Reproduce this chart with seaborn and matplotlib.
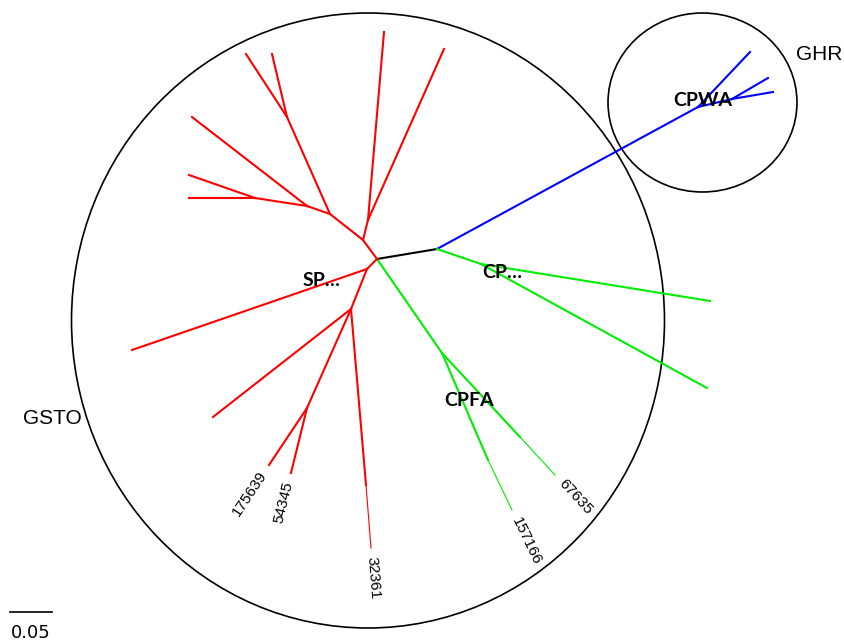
import numpy as np
import pandas as pd
import matplotlib
matplotlib.use("Agg")
import matplotlib.pyplot as plt
from matplotlib.patches import Ellipse
import seaborn as sns

# ---------------------------------------------------------------
# tree layout (unrooted, drawn in layout units, 840 units = 1.0 subst/site)
# ---------------------------------------------------------------
node_x = [377, 437, 698, 750, 732, 768, 773, 481, 710, 707, 442, 520, 555, 488, 512,
          363, 368, 384, 444, 330, 287, 246, 272, 307, 192, 255, 189, 189,
          367, 132, 351, 213, 307, 269, 291, 366, 371]
node_y = [259, 249, 107, 52, 99, 78, 92, 264, 301, 388, 353, 437, 475, 460, 510,
          240, 220, 32, 49, 214, 117, 54, 54, 206, 117, 198, 175, 198,
          269, 350, 309, 417, 408, 465, 473, 485, 548]
parent = [-1, 0, 1, 2, 2, 4, 4, 1, 7, 7, 0, 10, 11, 10, 13,
          0, 15, 16, 16, 15, 19, 20, 20, 19, 23, 23, 25, 25,
          0, 28, 28, 30, 30, 32, 32, 30, 35]
clade = ["root", "root", "GHR", "GHR", "GHR", "GHR", "GHR", "CP", "CP", "CP", "CP", "CP", "CP", "CP", "CP",
         "GSTO", "GSTO", "GSTO", "GSTO", "GSTO", "GSTO", "GSTO", "GSTO", "GSTO", "GSTO", "GSTO", "GSTO", "GSTO",
         "GSTO", "GSTO", "GSTO", "GSTO", "GSTO", "GSTO", "GSTO", "GSTO", "GSTO"]
thin_tips = [12, 14, 36]
leaf_labels = {33: "175639", 34: "54345", 36: "32361", 14: "157166", 12: "67635"}
clade_labels = ["SP…", "CP…", "CPFA", "CPWA"]
clade_label_xy = [(322, 280), (502, 272), (469, 400), (703, 100)]
group_names = ["GSTO", "GHR"]
group_xy = [(52, 418), (819, 55)]
group_circles = [(368, 320.5, 593, 615), (702.5, 102.5, 189, 179)]
scale_len = 0.05
units_per_dist = 840

palette = {"root": "#000000", "GHR": "#0000FF", "CP": "#00EE00", "GSTO": "#FF0000"}

rows = []
for i, p in enumerate(parent):
    if p < 0:
        continue
    w = "thin" if i in thin_tips else "thick"
    rows.append(dict(edge=i, x=node_x[p], y=node_y[p], clade=clade[i], w=w))
    rows.append(dict(edge=i, x=node_x[i], y=node_y[i], clade=clade[i], w=w))
edges = pd.DataFrame(rows)

fig = plt.figure(figsize=(8.45, 6.43), dpi=100)
ax = fig.add_axes([0, 0, 1, 1])

for w, lw in [("thick", 1.5), ("thin", 0.8)]:
    sub = edges[edges.w == w]
    sns.lineplot(data=sub, x="x", y="y", hue="clade", units="edge", estimator=None,
                 sort=False, palette=palette, linewidth=lw, legend=False, ax=ax)

for cx, cy, cw, ch in group_circles:
    ax.add_patch(Ellipse((cx, cy), cw, ch, fill=False, ec="black", lw=1.2))

for (tx, ty), s in zip(clade_label_xy, clade_labels):
    ax.text(tx, ty, s, ha="center", va="center", fontsize=14, fontweight="bold",
            family="Lato", color="black")

for (tx, ty), s in zip(group_xy, group_names):
    ax.text(tx, ty, s, ha="center", va="center", fontsize=15, family="Liberation Sans")

# leaf labels follow branch direction
for i, s in leaf_labels.items():
    p = parent[i]
    dx = node_x[i] - node_x[p]
    dy = node_y[i] - node_y[p]
    ang = np.degrees(np.arctan2(-dy, dx))
    d = np.hypot(dx, dy)
    ox, oy = node_x[i] + dx / d * 9, node_y[i] + dy / d * 9
    if abs(ang) > 90:
        ang += 180 if ang < 0 else -180
        ha = "right"
    else:
        ha = "left"
    ax.text(ox, oy, s, rotation=ang, rotation_mode="anchor", ha=ha, va="center",
            fontsize=11, family="Liberation Sans")

# scale bar
bar = scale_len * units_per_dist
ax.plot([10, 10 + bar], [612, 612], color="black", lw=1.2)
ax.text(10 + bar / 2, 633, f"{scale_len}", ha="center", va="center", fontsize=13,
        family="DejaVu Sans")

ax.set_xlim(0, 845)
ax.set_ylim(643, 0)
ax.axis("off")
fig.savefig("out.png", dpi=100, facecolor="white")
